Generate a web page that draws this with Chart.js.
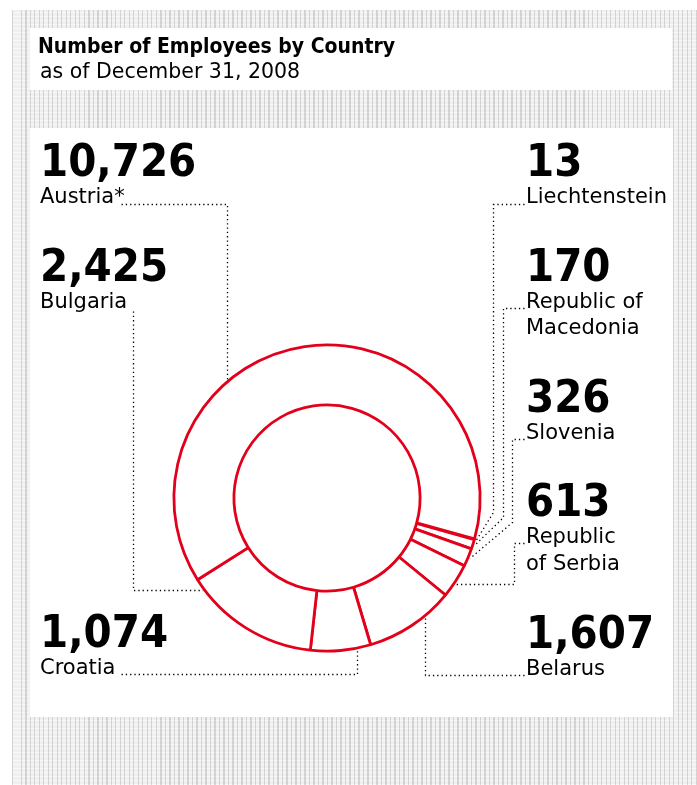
<!DOCTYPE html>
<html>
<head>
<meta charset="utf-8">
<script src="https://cdn.jsdelivr.net/npm/chart.js@4.4.1/dist/chart.umd.min.js"></script>
<style>
  html, body { margin: 0; padding: 0; background: #fff; }
  #page { position: relative; width: 697px; height: 785px; overflow: hidden; }
  #texture {
    position: absolute; left: 12px; top: 10px; width: 685px; height: 775px;
    background-color: #f0f0f0;
    background-image:
      repeating-linear-gradient(90deg, rgba(0,0,0,0.13) 0 1px, transparent 1px 4.5px),
      repeating-linear-gradient(0deg, rgba(255,255,255,0.55) 0 1px, transparent 1px 4px);
  }
  .panel { position: absolute; background: #fff; }
  #chart { position: absolute; left: 0; top: 0; }
  .txt { position: absolute; white-space: nowrap; color: #000; line-height: 1.164; }
  .num { font-family: "DejaVu Sans Condensed", "DejaVu Sans"; font-stretch: condensed; font-weight: bold; font-size: 45px; }
  .lab { font-family: "DejaVu Sans"; font-size: 21px; }
  .ttl { font-family: "DejaVu Sans Condensed", "DejaVu Sans"; font-stretch: condensed; font-weight: bold; font-size: 21px; }
  .sub { font-family: "DejaVu Sans"; font-size: 20.5px; }
</style>
</head>
<body>
<div id="page">
  <div id="texture"></div>
  <div class="panel" style="left:30px;top:28px;width:642px;height:62px"></div>
  <div class="panel" style="left:30px;top:128px;width:643px;height:589px"></div>
  <canvas id="chart" width="697" height="785"></canvas>
</div>
<script>
// employees per country, in clockwise order around the ring
const categories = ["Liechtenstein", "Republic of Macedonia", "Slovenia", "Republic of Serbia",
                    "Belarus", "Croatia", "Bulgaria", "Austria*"];
const employees = [13, 170, 326, 613, 1607, 1074, 2425, 10726];
const labelLines = [["Liechtenstein"], ["Republic of", "Macedonia"], ["Slovenia"], ["Republic", "of Serbia"],
                    ["Belarus"], ["Croatia"], ["Bulgaria"], ["Austria*"]];

const title = "Number of Employees by Country";
const subtitle = "as of December 31, 2008";

// where each label sits (x, number baseline, label line baselines)
const labelPos = [
  { x: 526, num: 177, lines: [203] },
  { x: 526, num: 282, lines: [308, 334] },
  { x: 526, num: 413, lines: [439] },
  { x: 526, num: 517, lines: [543, 570] },
  { x: 526, num: 649, lines: [675] },
  { x: 40, num: 648, lines: [674] },
  { x: 40, num: 282, lines: [308] },
  { x: 40, num: 177, lines: [203] },
];

// dotted leader lines: start, elbows, then how to hit the ring
const leaders = [
  { pts: [[524, 204], [493, 204], [493, 512]], end: "mid" },
  { pts: [[524, 308], [503, 308], [503, 517]], end: "mid" },
  { pts: [[524, 439], [512, 439], [512, 522]], end: "mid" },
  { pts: [[524, 543], [514, 543], [514, 584]], end: "h" },
  { pts: [[524, 675], [425, 675]], end: "v" },
  { pts: [[121, 674], [357, 674]], end: "v" },
  { pts: [[133, 311], [133, 590]], end: "h" },
  { pts: [[121, 204], [227, 204]], end: "v" },
];

const page = document.getElementById("page");

function addText(cls, text, x, baseline, size) {
  const d = document.createElement("div");
  d.className = "txt " + cls;
  d.textContent = text;
  d.style.left = x + "px";
  d.style.top = (baseline - 0.928 * size) + "px";
  page.appendChild(d);
}

addText("ttl", title, 38, 53, 21);
addText("sub", subtitle, 40, 79, 20.5);

employees.forEach((v, i) => {
  const p = labelPos[i];
  addText("num", v.toLocaleString("en-US"), p.x, p.num, 45);
  labelLines[i].forEach((line, j) => addText("lab", line, p.x, p.lines[j], 21));
});

const leaderPlugin = {
  id: "leaders",
  afterDatasetsDraw(chart) {
    const ctx = chart.ctx;
    const arcs = chart.getDatasetMeta(0).data;
    ctx.save();
    ctx.strokeStyle = "#000";
    ctx.lineWidth = 1.3;
    ctx.setLineDash([1.3, 3]);
    leaders.forEach((l, i) => {
      const arc = arcs[i];
      const cx = arc.x, cy = arc.y, r = arc.outerRadius + 1.5;
      const last = l.pts[l.pts.length - 1];
      let end;
      if (l.end === "mid") {
        const a = (arc.startAngle + arc.endAngle) / 2;
        end = [cx + r * Math.cos(a), cy + r * Math.sin(a)];
      } else if (l.end === "v") {
        const d = Math.sqrt(r * r - (last[0] - cx) ** 2);
        end = [last[0], last[1] < cy ? cy - d : cy + d];
      } else {
        const d = Math.sqrt(r * r - (last[1] - cy) ** 2);
        end = [last[0] < cx ? cx - d : cx + d, last[1]];
      }
      ctx.beginPath();
      ctx.moveTo(l.pts[0][0] + 0.5, l.pts[0][1] + 0.5);
      l.pts.slice(1).forEach(p => ctx.lineTo(p[0] + 0.5, p[1] + 0.5));
      ctx.lineTo(end[0] + 0.5, end[1] + 0.5);
      ctx.stroke();
    });
    ctx.restore();
  }
};

new Chart(document.getElementById("chart"), {
  type: "doughnut",
  data: {
    labels: categories,
    datasets: [{
      data: employees,
      backgroundColor: "#ffffff",
      borderColor: "#e2001a",
      borderWidth: 2.8,
      hoverOffset: 0,
    }],
  },
  options: {
    responsive: false,
    animation: false,
    rotation: 105.5,
    cutout: "60.8%",
    layout: { padding: { left: 172.5, top: 343.5, right: 215.5, bottom: 132.5 } },
    plugins: {
      legend: { display: false },
      tooltip: { enabled: false },
    },
  },
  plugins: [leaderPlugin],
});
</script>
</body>
</html>
